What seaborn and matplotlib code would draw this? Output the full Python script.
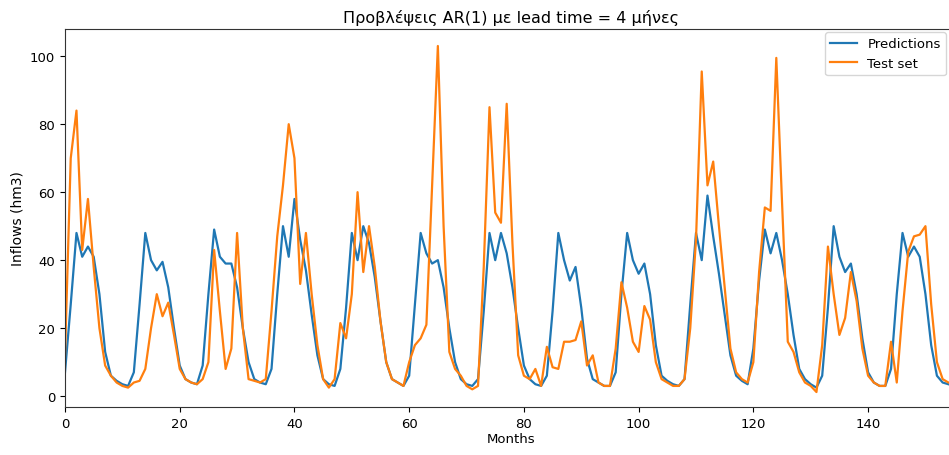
import matplotlib
matplotlib.use("Agg")
import matplotlib.pyplot as plt
import seaborn as sns
import numpy as np
import pandas as pd

predictions = [7, 27, 48, 41, 44, 41, 30, 13, 6, 4.5, 3.5, 3,
               7, 27, 48, 40, 37, 39.5, 32, 20, 9, 5, 4, 3.5,
               9, 30, 49, 41, 39, 39, 32, 20, 10, 5, 4, 3.5,
               8, 30, 50, 41, 58, 46, 37, 24, 12, 5, 3.5, 3,
               8, 26, 48, 40, 50, 45, 35, 22, 10, 5, 4, 3,
               6, 27, 48, 42, 39, 40, 32, 20, 10, 5, 3.5, 3,
               5, 25, 48, 40, 48, 42, 32, 20, 9, 5, 3.5, 3,
               6, 25, 48, 40, 34, 38, 26, 11, 5, 4, 3, 3,
               7, 30, 48, 40, 36, 39, 30, 15, 6, 4.5, 3.5, 3,
               5, 27, 48, 40, 59, 47, 36, 24, 12, 6, 4.5, 3.5,
               14, 34, 49, 42, 48, 40, 30, 18, 8, 5, 3.5, 2.5,
               6, 26, 50, 41, 36.5, 39, 30, 17, 7, 4, 3, 3,
               8, 30, 48, 41, 44, 41, 30, 15, 6, 4, 3.5, 3]

test_set = [12, 70, 84, 43, 58, 38, 20, 9, 6, 4, 3, 2.5,
            4, 4.5, 8, 20, 30, 23.5, 27.5, 18, 8, 5, 4, 3.5,
            5, 10, 43, 25, 8, 14, 48, 20, 5, 4.5, 4, 5,
            25, 47, 62, 80, 70, 33, 48, 30, 15, 5, 2.5, 5,
            21.5, 17, 30, 60, 36.5, 50, 38, 22, 10, 5, 4, 3,
            10, 15, 17, 21, 62, 103, 50, 13, 8, 6, 3, 2,
            3, 38, 85, 54, 51, 86, 45, 12, 6, 5, 8, 3,
            14.5, 8.5, 8, 16, 16, 16.5, 22, 9, 12, 4, 3, 3,
            14, 33.5, 26, 16, 13, 26.5, 22.5, 10, 5, 4, 3, 3,
            5, 20, 46, 95.5, 62, 69, 50, 32, 14, 7, 5, 4,
            10, 36.5, 55.5, 54.5, 99.5, 57, 16, 13, 7, 4, 3, 1.2,
            15, 44, 30, 18, 23, 36.5, 28, 14, 6, 4, 3, 3,
            16, 4, 25, 42.5, 47, 47.5, 50, 27, 10, 5, 4, 3.5]

months = list(range(len(predictions)))

title = "Προβλέψεις AR(1) με lead time = 4 μήνες"
xlabel = "Months"
ylabel = "Inflows (hm3)"
series_names = ["Predictions", "Test set"]

plt.rcParams['font.family'] = ['DejaVu Sans']

fig = plt.figure(figsize=(9.49, 4.56), dpi=100)
ax = fig.add_axes([65 / 949, 48 / 456, 892 / 949, 378 / 456])

sns.lineplot(x=months, y=predictions, ax=ax, color='#1f77b4', linewidth=1.6,
             label=series_names[0])
sns.lineplot(x=months, y=test_set, ax=ax, color='#ff7f0e', linewidth=1.6,
             label=series_names[1])

ax.set_xlim(0, 155.5)
ax.set_ylim(-3.2, 108)
ax.set_xticks([0, 20, 40, 60, 80, 100, 120, 140])
ax.set_yticks([0, 20, 40, 60, 80, 100])
ax.tick_params(labelsize=9.5)
ax.set_title(title, fontsize=11.5, pad=5)
ax.set_xlabel(xlabel, fontsize=9.5, labelpad=2)
ax.set_ylabel(ylabel, fontsize=10)
for s in ax.spines.values():
    s.set_color('#333333')

ax.legend(loc='upper right', bbox_to_anchor=(946 / 949, 1 - 33 / 456),
          bbox_transform=fig.transFigure, borderaxespad=0, fontsize=9.5,
          framealpha=0.8)

fig.savefig("out.png", dpi=100)
